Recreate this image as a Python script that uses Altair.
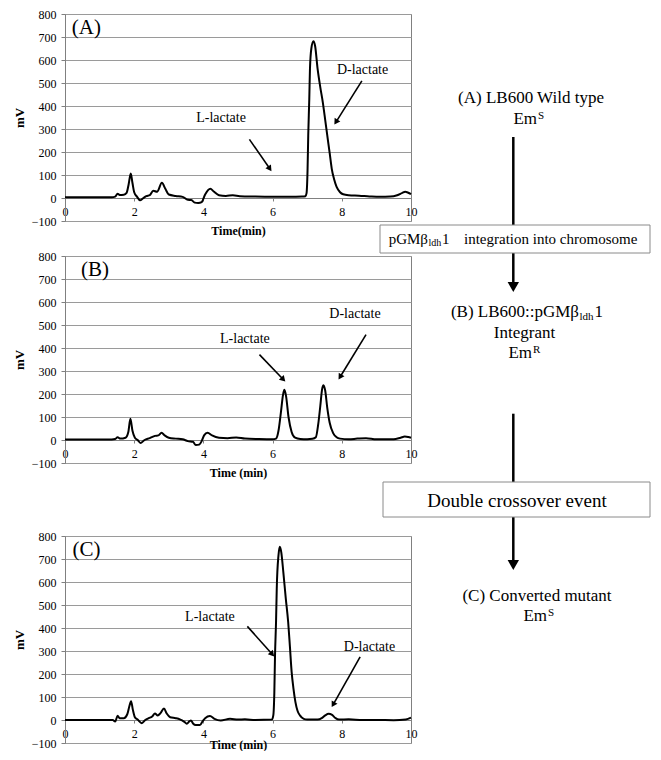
import math
import altair as alt
import pandas as pd

# ---------------- chromatogram data (time in min, signal in mV) ----------------
time_A = [0.0, 0.5, 1.0, 1.35, 1.45, 1.52, 1.58, 1.7, 1.78, 1.84, 1.9, 1.95, 2.0, 2.08, 2.17,
          2.25, 2.35, 2.45, 2.55, 2.66, 2.8, 2.9, 3.0, 3.2, 3.4, 3.55, 3.65, 3.75, 3.85, 3.95,
          4.05, 4.2, 4.3, 4.45, 4.65, 4.85, 5.05, 5.5, 6.0, 6.5, 6.85, 6.95, 6.98, 7.01, 7.03,
          7.06, 7.08, 7.12, 7.18, 7.23, 7.30, 7.38, 7.45, 7.52, 7.58, 7.65, 7.71, 7.78, 7.85, 7.95,
          8.04, 8.2, 8.5, 8.8, 9.1, 9.4, 9.6, 9.75, 9.83, 9.92, 10.0]
mv_A = [3, 3, 3, 3, 6, 19, 13, 14, 22, 60, 106, 65, 25, 6, -10,
        -2, 8, 12, 32, 27, 66, 40, 15, 9, 5, -8, -9, -20, -22, -18,
        15, 40, 28, 12, 9, 12, 8, 6, 5, 5, 6, 8, 20, 120, 272,
        430, 562, 650, 681, 660, 562, 480, 417, 340, 272, 195, 127, 80, 48, 25,
        16, 12, 10, 7, 5, 6, 12, 22, 27, 23, 17]

time_B = [0.0, 0.5, 1.0, 1.35, 1.45, 1.52, 1.6, 1.75, 1.83, 1.89, 1.95, 2.02, 2.1, 2.18, 2.3,
          2.45, 2.6, 2.7, 2.79, 2.88, 3.0, 3.2, 3.4, 3.55, 3.7, 3.78, 3.88, 3.95, 4.02, 4.12,
          4.25, 4.45, 4.7, 4.95, 5.2, 5.6, 6.0, 6.1, 6.17, 6.24, 6.3, 6.34, 6.39, 6.46, 6.55,
          6.65, 6.8, 7.0, 7.15, 7.25, 7.32, 7.38, 7.43, 7.47, 7.52, 7.58, 7.65, 7.75, 7.85, 7.95,
          8.2, 8.45, 8.7, 9.0, 9.5, 9.7, 9.82, 9.92, 10.0]
mv_B = [2, 2, 2, 2, 4, 12, 6, 10, 35, 92, 40, 10, 0, -13, 0,
        8, 18, 20, 31, 20, 10, 6, 3, -5, -8, -22, -20, -5, 20, 32,
        20, 10, 8, 11, 6, 4, 3, 6, 40, 120, 195, 218, 190, 100, 35,
        10, 4, 3, 5, 12, 70, 150, 220, 238, 215, 140, 75, 30, 12, 6,
        3, 6, 8, 3, 3, 10, 15, 13, 10]

time_C = [0.0, 0.5, 1.0, 1.38, 1.45, 1.52, 1.58, 1.7, 1.8, 1.86, 1.91, 1.96, 2.02, 2.1, 2.22,
          2.32, 2.42, 2.52, 2.6, 2.68, 2.76, 2.86, 2.94, 3.04, 3.2, 3.32, 3.45, 3.52, 3.6, 3.64,
          3.7, 3.78, 3.9, 3.98, 4.05, 4.19, 4.32, 4.5, 4.77, 5.0, 5.2, 5.5, 5.98, 6.02, 6.05,
          6.07, 6.1, 6.12, 6.17, 6.21, 6.25, 6.31, 6.38, 6.45, 6.5, 6.55, 6.6, 6.66, 6.72, 6.79,
          6.9, 7.0, 7.3, 7.42, 7.52, 7.62, 7.72, 7.82, 7.92, 8.2, 8.6, 9.0, 9.5, 9.85, 10.0]
mv_C = [0, 0, 0, 0, -7, 18, 8, 8, 25, 60, 82, 45, 12, 2, -14,
        0, 8, 15, 28, 20, 30, 50, 28, 12, 8, 3, -8, -16, -5, -2,
        -15, -22, -22, -5, 8, 17, 5, -2, 5, 2, 3, 0, 2, 20, 120,
        281, 430, 571, 716, 753, 730, 643, 530, 426, 320, 209, 140, 78, 40, 20,
        5, 2, 2, 8, 20, 27, 22, 8, 2, 3, 0, 0, -1, 2, 10]

# in-plot labels: (text, time, mV)
labels_A = [("L-lactate", 4.51, 348), ("D-lactate", 8.6, 557)]
labels_B = [("L-lactate", 5.2, 439), ("D-lactate", 8.38, 548)]
labels_C = [("L-lactate", 4.19, 446), ("D-lactate", 8.8, 317)]
panel_letters = [("(A)", 0.62, 739), ("(B)", 0.87, 737), ("(C)", 0.62, 741)]

# in-plot arrows: (t_start, mV_start, t_end, mV_end)
arrows_A = [(5.33, 255, 5.92, 127), (8.58, 509, 7.83, 330)]
arrows_B = [(5.62, 371, 6.31, 263), (8.7, 458, 7.95, 274)]
arrows_C = [(5.27, 407, 5.99, 286), (8.53, 274, 7.75, 67)]

x_ticks = [0, 2, 4, 6, 8, 10]
y_ticks = [-100, 0, 100, 200, 300, 400, 500, 600, 700, 800]

# ---------------- styling ----------------
FONT = "Liberation Serif"
W, H = 346, 207
PX_PER_MIN = W / 10.0
PX_PER_MV = H / 900.0
GRID = "#9a9a9a"
AXIS = "#808080"
ONE = pd.DataFrame({"k": [0]})


def enc_xy(xtitle, title_pad):
    x = alt.X("t:Q", scale=alt.Scale(domain=[0, 10], nice=False, zero=False),
              axis=alt.Axis(values=x_ticks, title=xtitle, offset=-23, grid=False,
                            tickSize=3, tickColor=AXIS, domainColor=AXIS,
                            labelPadding=5, labelFontSize=12, labelFlush=False,
                            labelColor="black", titleFontSize=12, titleFontWeight="bold",
                            titlePadding=title_pad, titleColor="black",
                            labelFont=FONT, titleFont=FONT))
    y = alt.Y("mV:Q", scale=alt.Scale(domain=[-100, 800], nice=False, zero=False),
              axis=alt.Axis(values=y_ticks, title="mV", grid=True, gridColor=GRID,
                            tickSize=4, tickColor=AXIS, domainColor=AXIS,
                            labelPadding=5, labelFontSize=12, labelColor="black",
                            titleFontSize=13, titleFontWeight="bold", titlePadding=5,
                            titleColor="black", labelFont=FONT, titleFont=FONT))
    return x, y


def ptext(text, x, y, size, align="center"):
    return alt.Chart(ONE).mark_text(text=text, fontSize=size, align=align, baseline="middle",
                                    font=FONT, color="black").encode(
        x=alt.value(x), y=alt.value(y))


def prule(x, y1, y2, width=2.5):
    return alt.Chart(ONE).mark_rule(color="black", strokeWidth=width).encode(
        x=alt.value(x), y=alt.value(y1), y2=alt.value(y2))


def phead(x, y, size=130):
    return alt.Chart(ONE).mark_point(shape="triangle-down", filled=True, color="black",
                                     opacity=1, size=size).encode(
        x=alt.value(x), y=alt.value(y))


def pbox(x1, x2, y1, y2):
    return alt.Chart(ONE).mark_rect(fill="white", stroke="#8a8a8a", strokeWidth=1).encode(
        x=alt.value(x1), x2=alt.value(x2), y=alt.value(y1), y2=alt.value(y2))


def panel(times, vals, xtitle, title_pad, letter, labels, arrows, extra):
    x, y = enc_xy(xtitle, title_pad)
    df = pd.DataFrame({"t": times, "mV": vals})
    line = alt.Chart(df).mark_line(color="black", strokeWidth=2,
                                   interpolate="monotone").encode(x=x, y=y)
    lab_df = pd.DataFrame({"txt": [l[0] for l in labels], "t": [l[1] for l in labels],
                           "mV": [l[2] for l in labels]})
    labs = alt.Chart(lab_df).mark_text(fontSize=14, font=FONT, color="black",
                                       baseline="middle").encode(x=x, y=y, text="txt:N")
    let_df = pd.DataFrame({"txt": [letter[0]], "t": [letter[1]], "mV": [letter[2]]})
    let = alt.Chart(let_df).mark_text(fontSize=21, font=FONT, color="black",
                                      baseline="middle").encode(x=x, y=y, text="txt:N")
    ar_df = pd.DataFrame({"t": [a[0] for a in arrows], "mV": [a[1] for a in arrows],
                          "t2": [a[2] for a in arrows], "mV2": [a[3] for a in arrows]})
    rules = alt.Chart(ar_df).mark_rule(color="black", strokeWidth=1.6).encode(
        x=x, y=y, x2="t2:Q", y2="mV2:Q")
    angs = []
    for a in arrows:
        dx = (a[2] - a[0]) * PX_PER_MIN
        dy = -(a[3] - a[1]) * PX_PER_MV
        angs.append(math.degrees(math.atan2(dx, -dy)) % 360)
    hd_df = pd.DataFrame({"t": [a[2] for a in arrows], "mV": [a[3] for a in arrows],
                          "ang": angs})
    heads = alt.Chart(hd_df).mark_point(shape="triangle-up", filled=True, color="black",
                                        opacity=1, size=45).encode(
        x=x, y=y, angle=alt.Angle("ang:Q", scale=None))
    return alt.layer(line, rules, heads, labs, let, *extra).properties(width=W, height=H)


# right-hand flow diagram (pixel positions relative to each panel's plot area)
extra_A = [
    ptext("(A) LB600 Wild type", 466, 84, 17),
    ptext("Em", 472, 105, 17, "right"),
    ptext("S", 473, 101.5, 11, "left"),
    prule(448.3, 123, 271),
    phead(448.3, 273),
    pbox(315, 585, 211, 239),
    ptext("pGMβ", 363, 225, 15, "right"),
    ptext("ldh", 363.5, 229, 10, "left"),
    ptext("1", 377, 225, 15, "left"),
    ptext("integration into chromosome", 399, 225, 15, "left"),
]
extra_B = [
    ptext("(B) LB600::pGMβ", 514, 56, 17, "right"),
    ptext("ldh", 514.5, 60.5, 11, "left"),
    ptext("1", 529.5, 56, 17, "left"),
    ptext("Integrant", 459.5, 76.5, 17),
    ptext("Em", 467, 97, 17, "right"),
    ptext("R", 468, 93.5, 11, "left"),
    prule(448.3, 157.7, 307),
    phead(448.3, 309),
    pbox(318, 585, 226, 261),
    ptext("Double crossover event", 452, 245, 19),
]
extra_C = [
    ptext("(C) Converted mutant", 472, 60, 17),
    ptext("Em", 482, 79.5, 17, "right"),
    ptext("S", 483, 76.5, 11, "left"),
]

pA = panel(time_A, mv_A, "Time(min)", 8.5, panel_letters[0], labels_A, arrows_A, extra_A)
pB = panel(time_B, mv_B, "Time (min)", 8.5, panel_letters[1], labels_B, arrows_B, extra_B)
pC = panel(time_C, mv_C, "Time (min)", 0, panel_letters[2], labels_C, arrows_C, extra_C)

spacer = alt.Chart(ONE).mark_point(opacity=0).encode(
    x=alt.value(0), y=alt.value(0)).properties(
    width=W, height=3, view=alt.ViewBackground(stroke="transparent"))

chart = alt.vconcat(pA, pB, spacer, pC, spacing=35, bounds="flush").properties(
    padding={"left": 4, "top": -1, "right": 0, "bottom": 0},
    background="white",
).configure(font=FONT).configure_view(stroke=AXIS, strokeWidth=1)

chart.save("out.html", embed_options={"renderer": "svg", "actions": False})
